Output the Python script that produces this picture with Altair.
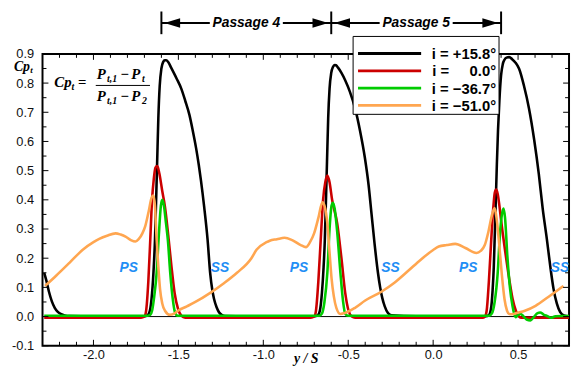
import altair as alt
import pandas as pd

# ---------------- data ----------------
series_labels = ["i = +15.8\u00b0", "i =\u00a0\u00a0\u00a0\u00a0\u00a00.0\u00b0",
                 "i = \u221236.7\u00b0", "i = \u221251.0\u00b0"]
series_colors = ["#000000", "#cc0000", "#00cc00", "#ffa650"]

black_x = [-2.29, -2.278, -2.262, -2.245, -2.228, -2.21, -2.19, -2.17, -2.14, -2.0, -1.8, -1.70,
           -1.682, -1.668, -1.655, -1.645, -1.638, -1.632, -1.625, -1.618, -1.61, -1.60, -1.59, -1.58,
           -1.572, -1.56, -1.542, -1.51, -1.483, -1.46, -1.435, -1.415, -1.396, -1.38, -1.367, -1.348,
           -1.328, -1.313, -1.30, -1.29, -1.275, -1.261, -1.245, -1.225, -1.1, -0.9, -0.70,
           -0.68, -0.667, -0.655, -0.645, -0.638, -0.632, -0.625, -0.618, -0.61, -0.60, -0.59, -0.58,
           -0.572, -0.56, -0.54, -0.518, -0.49, -0.46, -0.43, -0.402, -0.38, -0.363, -0.345, -0.325,
           -0.312, -0.30, -0.285, -0.266, -0.245, -0.1, 0.1, 0.31,
           0.327, 0.34, 0.35, 0.357, 0.362, 0.368, 0.375, 0.382, 0.39, 0.40, 0.41, 0.42, 0.432, 0.448,
           0.465, 0.485, 0.506, 0.535, 0.564, 0.595, 0.622, 0.645, 0.67, 0.69, 0.709, 0.728, 0.748,
           0.77, 0.80]
black_y = [0.150, 0.125, 0.085, 0.052, 0.030, 0.016, 0.008, 0.004, 0.002, 0.001, 0.001, 0.001,
           0.004, 0.02, 0.08, 0.17, 0.26, 0.38, 0.53, 0.68, 0.79, 0.85, 0.872, 0.878,
           0.878, 0.872, 0.852, 0.815, 0.781, 0.74, 0.691, 0.636, 0.578, 0.52, 0.466, 0.375,
           0.263, 0.15, 0.09, 0.06, 0.032, 0.015, 0.006, 0.002, 0.001, 0.001, 0.001,
           0.004, 0.02, 0.08, 0.17, 0.26, 0.38, 0.53, 0.68, 0.78, 0.835, 0.855, 0.862,
           0.861, 0.853, 0.835, 0.81, 0.77, 0.714, 0.635, 0.544, 0.45, 0.353, 0.25, 0.15,
           0.10, 0.065, 0.035, 0.012, 0.004, 0.001, 0.001, 0.001,
           0.004, 0.025, 0.09, 0.17, 0.263, 0.38, 0.52, 0.64, 0.74, 0.827, 0.865, 0.88, 0.887, 0.889,
           0.882, 0.87, 0.849, 0.79, 0.714, 0.605, 0.489, 0.37, 0.263, 0.17, 0.094, 0.045, 0.015,
           0.004, 0.001]

red_x = [-2.29, -1.72, -1.70, -1.69, -1.677, -1.665, -1.655, -1.645, -1.635, -1.624, -1.612, -1.595,
         -1.579, -1.56, -1.541, -1.522, -1.502, -1.483, -1.46,
         -0.72, -0.70, -0.69, -0.676, -0.662, -0.648, -0.635, -0.623, -0.61, -0.595, -0.565, -0.54,
         -0.518, -0.498, -0.479, -0.46,
         0.29, 0.305, 0.315, 0.328, 0.342, 0.355, 0.363, 0.371, 0.38, 0.39, 0.40, 0.425, 0.448,
         0.468, 0.487, 0.505, 0.52, 0.80]
red_y = [-0.004, -0.004, 0.0, 0.02, 0.12, 0.27, 0.40, 0.47, 0.51, 0.516, 0.49, 0.43,
         0.376, 0.28, 0.173, 0.08, 0.026, 0.003, -0.004,
         -0.004, 0.0, 0.02, 0.12, 0.263, 0.40, 0.46, 0.483, 0.46, 0.40, 0.319, 0.20,
         0.082, 0.02, 0.0, -0.004,
         -0.004, 0.0, 0.02, 0.12, 0.263, 0.38, 0.425, 0.435, 0.42, 0.38, 0.33, 0.22, 0.128,
         0.06, 0.02, 0.0, -0.004, -0.004]

green_x = [-2.29, -1.68, -1.665, -1.655, -1.642, -1.628, -1.615, -1.603, -1.595, -1.585, -1.573,
           -1.562, -1.548, -1.533, -1.52, -1.505,
           -0.67, -0.655, -0.64, -0.623, -0.61, -0.598, -0.59, -0.58, -0.565, -0.546, -0.53, -0.518,
           -0.50,
           0.33, 0.345, 0.362, 0.38, 0.393, 0.405, 0.414, 0.423, 0.437, 0.452, 0.467, 0.478, 0.487,
           0.50, 0.515, 0.53, 0.55, 0.573, 0.595, 0.615, 0.63, 0.65, 0.67, 0.695, 0.72, 0.76, 0.80]
green_y = [0.003, 0.003, 0.006, 0.02, 0.07, 0.15, 0.28, 0.38, 0.40, 0.38, 0.32,
           0.263, 0.15, 0.06, 0.015, 0.003,
           0.003, 0.01, 0.05, 0.15, 0.30, 0.38, 0.39, 0.37, 0.29, 0.15, 0.05, 0.01,
           0.003,
           0.003, 0.01, 0.05, 0.15, 0.28, 0.35, 0.37, 0.34, 0.206, 0.10, 0.037, 0.008, -0.002,
           0.006, 0.009, 0.002, -0.01, -0.013, 0.0, 0.012, 0.014, 0.007, 0.002, -0.004, 0.001, 0.002, 0.002]

orange_x = [-2.285, -2.22, -2.14, -2.063, -2.0, -1.966, -1.92, -1.87, -1.84, -1.811, -1.78, -1.753,
            -1.734, -1.712, -1.695, -1.675, -1.657, -1.647, -1.638, -1.628, -1.618, -1.608, -1.595,
            -1.579, -1.55, -1.525, -1.502, -1.45, -1.40, -1.31, -1.23, -1.155, -1.07, -1.04, -0.981,
            -0.962, -0.92, -0.875, -0.83, -0.78, -0.749, -0.725, -0.701, -0.675, -0.652, -0.64,
            -0.623, -0.61, -0.598, -0.585, -0.57, -0.546, -0.52, -0.46, -0.40, -0.305, -0.228,
            -0.15, -0.073, 0.0, 0.033, 0.08, 0.13, 0.19, 0.255, 0.28, 0.304, 0.325, 0.345, 0.362,
            0.375, 0.39, 0.405, 0.42, 0.435, 0.448, 0.467, 0.49, 0.54, 0.603, 0.68, 0.767]
orange_y = [0.105, 0.14, 0.185, 0.229, 0.255, 0.266, 0.277, 0.285, 0.281, 0.274, 0.262, 0.257,
            0.265, 0.285, 0.31, 0.36, 0.409, 0.415, 0.38, 0.263, 0.17, 0.094, 0.045,
            0.02, 0.006, 0.01, 0.02, 0.035, 0.05, 0.082, 0.115, 0.15, 0.2, 0.229, 0.255,
            0.26, 0.265, 0.27, 0.262, 0.245, 0.238, 0.255, 0.285, 0.34, 0.392, 0.38,
            0.319, 0.22, 0.13, 0.07, 0.03, 0.009, 0.012, 0.03, 0.055, 0.085, 0.116,
            0.155, 0.195, 0.228, 0.24, 0.245, 0.249, 0.235, 0.218, 0.225, 0.245, 0.29, 0.345, 0.372,
            0.33, 0.24, 0.14, 0.06, 0.02, 0.009, 0.008, 0.012, 0.02, 0.037, 0.068, 0.105]

side_text = ["PS", "SS", "PS", "SS", "PS", "SS"]
side_x = [-1.792, -1.255, -0.79, -0.251, 0.207, 0.747]
side_y = [0.167, 0.167, 0.167, 0.167, 0.167, 0.167]

passage_names = ["Passage 4", "Passage 5"]
passage_bounds = [-1.6, -0.6, 0.4]

x_major = [-2.0, -1.5, -1.0, -0.5, 0.0, 0.5]
y_major = [-0.1, 0.0, 0.1, 0.2, 0.3, 0.4, 0.5, 0.6, 0.7, 0.8, 0.9]
x_minor = [round(-2.2 + 0.1 * k, 1) for k in range(30)]
x_minor = [v for v in x_minor if v not in x_major]
y_minor = [round(-0.05 + 0.1 * k, 2) for k in range(10)]

# ---------------- layout ----------------
W, H = 534, 296
xscale = alt.Scale(domain=[-2.3, 0.8], nice=False, zero=False)
yscale = alt.Scale(domain=[-0.1, 0.9], nice=False, zero=False)
color_scale = alt.Scale(domain=series_labels, range=series_colors)

dummy = pd.DataFrame({"d": [0]})
SANS = "Liberation Sans"
SERIF = "Liberation Serif"

neg_fmt = "datum.value < 0 ? '-' + format(-datum.value, '.1f') : format(datum.value, '.1f')"

x_axis = alt.Axis(values=x_major, labelExpr=neg_fmt, ticks=False, domain=False,
                  grid=False, labelPadding=3, labelFont=SANS, labelFontSize=13,
                  labelColor="#111111", labelOverlap=False, labelFlush=False,
                  title="y / S", titleFont=SERIF, titleFontStyle="italic",
                  titleFontWeight="bold", titleFontSize=14, titleBaseline="alphabetic",
                  titleY=17)
y_axis = alt.Axis(values=y_major, labelExpr=neg_fmt, ticks=False, domain=False,
                  grid=False, labelPadding=9, title=None, labelFont=SANS,
                  labelFontSize=13, labelColor="#111111", labelOverlap=False,
                  labelFlush=False)


def X(field):
    return alt.X(field, scale=xscale, axis=x_axis)


def Y(field):
    return alt.Y(field, scale=yscale, axis=y_axis)


layers = []

# zero line (under the curves)
layers.append(alt.Chart(pd.DataFrame({"y": [0.0]})).mark_rule(color="black", strokeWidth=1)
              .encode(y=Y("y:Q")))

# series curves
all_x = [black_x, red_x, green_x, orange_x]
all_y = [black_y, red_y, green_y, orange_y]
for lab, xs, ys in zip(series_labels, all_x, all_y):
    df = pd.DataFrame({"x": xs, "y": ys, "series": lab})
    layers.append(
        alt.Chart(df).mark_line(strokeWidth=2.6, interpolate="monotone").encode(
            x=X("x:Q"), y=Y("y:Q"),
            color=alt.Color("series:N", scale=color_scale, legend=None),
        )
    )

# PS / SS labels
side_df = pd.DataFrame({"x": side_x, "y": side_y, "t": side_text})
layers.append(
    alt.Chart(side_df).mark_text(font=SANS, fontSize=14, fontStyle="italic", fontWeight="bold",
                                 color="#1f8ef5", baseline="middle").encode(
        x=X("x:Q"), y=Y("y:Q"), text="t:N")
)

# inward ticks
def tick_layers(vals, length, axis):
    df = pd.DataFrame({"v": vals})
    base = alt.Chart(df).mark_rule(color="black", strokeWidth=1)
    if axis == "x":
        return [base.encode(x=X("v:Q"), y=alt.value(H), y2=alt.value(H - length)),
                base.encode(x=X("v:Q"), y=alt.value(0), y2=alt.value(length))]
    return [base.encode(y=Y("v:Q"), x=alt.value(0), x2=alt.value(length)),
            base.encode(y=Y("v:Q"), x=alt.value(W), x2=alt.value(W - length))]

layers += tick_layers(x_major, 6, "x") + tick_layers(x_minor, 4, "x")
layers += tick_layers(y_major, 6, "y") + tick_layers(y_minor, 4, "y")

# passage annotations
bars_df = pd.DataFrame({"x": passage_bounds})
layers.append(alt.Chart(bars_df).mark_rule(color="black", strokeWidth=2).encode(
    x=X("x:Q"), y=alt.value(-43), y2=alt.value(-20)))
seg_rows = []
txt_rows = []
half = 0.215
for i, name in enumerate(passage_names):
    a, b = passage_bounds[i], passage_bounds[i + 1]
    mid = (a + b) / 2
    seg_rows.append({"x1": a, "x2": mid - half})
    seg_rows.append({"x1": mid + half, "x2": b})
    txt_rows.append({"x": mid, "t": name})
layers.append(alt.Chart(pd.DataFrame(seg_rows)).mark_rule(color="black", strokeWidth=2).encode(
    x=X("x1:Q"), x2="x2:Q", y=alt.value(-31.3)))
layers.append(alt.Chart(pd.DataFrame(txt_rows)).mark_text(
    font=SANS, fontSize=14, fontStyle="italic", fontWeight="bold", color="black",
    baseline="middle").encode(x=X("x:Q"), y=alt.value(-31.3), text="t:N"))
left_heads = pd.DataFrame({"x": passage_bounds[:-1]})
right_heads = pd.DataFrame({"x": passage_bounds[1:]})
layers.append(alt.Chart(left_heads).mark_point(
    shape="M-1,0L1,-0.6L1,0.6Z", size=256, filled=True, color="black", opacity=1,
    xOffset=11).encode(x=X("x:Q"), y=alt.value(-31.3)))
layers.append(alt.Chart(right_heads).mark_point(
    shape="M1,0L-1,-0.6L-1,0.6Z", size=256, filled=True, color="black", opacity=1,
    xOffset=-11).encode(x=X("x:Q"), y=alt.value(-31.3)))

# text pieces (formula and y title)
def piece(s, x, y, size, font=SERIF, style="italic", weight="bold", align="left"):
    return alt.Chart(dummy).mark_text(text=s, font=font, fontSize=size, fontStyle=style,
                                      fontWeight=weight, align=align, baseline="alphabetic",
                                      color="black").encode(x=alt.value(x), y=alt.value(y))

# y-axis title Cp_t
layers.append(piece("Cp", -29, 17, 14))
layers.append(piece("t", -12.5, 19.5, 9))
# formula
layers.append(piece("Cp", 12, 34, 15))
layers.append(piece("t", 29.5, 37, 10))
layers.append(piece("=", 36, 34, 15, style="normal"))
for base_y, last in [(25, "t"), (48, "2")]:
    layers.append(piece("P", 55, base_y, 15))
    layers.append(piece("t,1", 65.5, base_y + 3, 10))
    layers.append(piece("\u2212", 79, base_y, 15, style="normal"))
    layers.append(piece("P", 90, base_y, 15))
    layers.append(piece(last, 101, base_y + 3, 10))
layers.append(alt.Chart(dummy).mark_rule(color="black", strokeWidth=1).encode(
    x=alt.value(54), x2=alt.value(109), y=alt.value(32)))

# legend box
layers.append(alt.Chart(dummy).mark_rect(fill="white", stroke="black", strokeWidth=1).encode(
    x=alt.value(315), x2=alt.value(463), y=alt.value(-17.7), y2=alt.value(61.3)))
for k, lab in enumerate(series_labels):
    ldf = pd.DataFrame({"series": [lab]})
    ry = -0.3 + 17.5 * k
    layers.append(alt.Chart(ldf).mark_rule(strokeWidth=3).encode(
        x=alt.value(320), x2=alt.value(384), y=alt.value(ry),
        color=alt.Color("series:N", scale=color_scale, legend=None)))
    layers.append(alt.Chart(ldf).mark_text(font=SANS, fontSize=15, fontWeight="bold",
                                           align="right", baseline="middle", color="black").encode(
        x=alt.value(460), y=alt.value(ry + 0.5), text="series:N"))

chart = alt.layer(*layers).properties(
    width=W, height=H,
    autosize=alt.AutoSizeParams(type="none"),
    padding={"left": 35, "top": 44, "right": 2, "bottom": 19},
).configure_view(stroke="black", strokeWidth=2).configure_axis(
    labelOverlap=False, labelFlush=False)

chart.save("out.html", embed_options={"renderer": "svg", "actions": False})
